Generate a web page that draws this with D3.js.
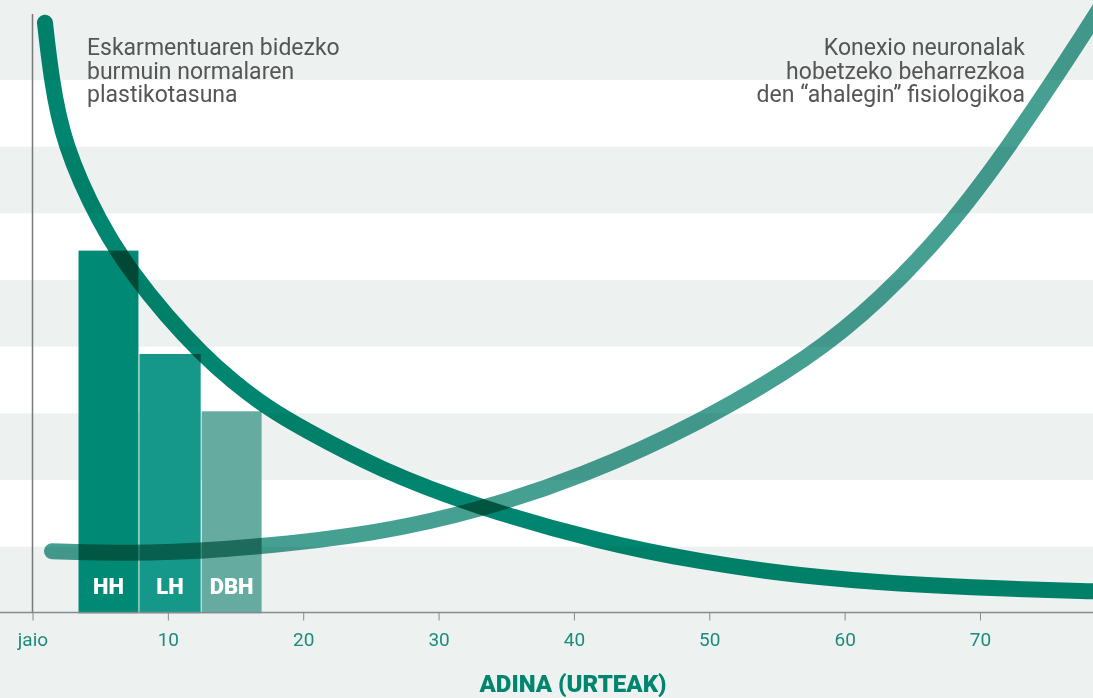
<!DOCTYPE html>
<html>
<head>
<meta charset="utf-8">
<script src="https://cdn.jsdelivr.net/npm/d3@7"></script>
<style>
  html, body { margin: 0; padding: 0; background: #edf1f0; }
  svg { display: block; }
</style>
</head>
<body>
<div id="chart"></div>
<script>
// data
const bandLevels = [1, 3, 5, 7];              // white stripes start at these levels (1 unit tall)
const barNames = ['HH', 'LH', 'DBH'];
const barStart = [3.4, 7.9, 12.5];           // age where each bar begins
const barEnd = [7.9, 12.5, 17.0];            // age where each bar ends
const barValues = [5.44, 3.89, 3.03];
const barColors = ['#008a75', '#15978a', '#65ab9f'];

// plasticity (falls with age)
const plastAges = [0.92, 1.37, 2.25, 4.99, 7.43, 9.94, 12.38, 14.81, 17.32, 19.76, 25.67, 33.06, 41.93, 49.31, 56.7, 64.09, 71.48, 78.35, 79.6];
const plastLevels = [8.86, 8.05, 7.05, 5.83, 5.08, 4.45, 3.92, 3.47, 3.09, 2.79, 2.15, 1.58, 1.07, 0.77, 0.56, 0.44, 0.37, 0.327, 0.325];

// physiological effort (rises with age)
const effortAges = [1.44, 8.68, 16.07, 25.67, 33.06, 40.45, 49.31, 57.66, 62.6, 67.56, 72.4, 78.35, 79.6];
const effortLevels = [0.93, 0.89, 0.98, 1.2, 1.55, 2.04, 2.85, 3.86, 4.7, 5.75, 7.06, 8.9, 9.32];

const xTicks = [0, 10, 20, 30, 40, 50, 60, 70];
const leftNote = ['Eskarmentuaren bidezko', 'burmuin normalaren', 'plastikotasuna'];
const rightNote = ['Konexio neuronalak', 'hobetzeko beharrezkoa', 'den “ahalegin” fisiologikoa'];
const axisTitle = 'ADINA (URTEAK)';

const width = 1093;
const height = 698;

const x = d3.scaleLinear().domain([0, 78.35]).range([32.5, 1093]);
const y = d3.scaleLinear().domain([0, 9]).range([613.3, 13.3]);

const svg = d3.select('#chart')
  .append('svg')
  .attr('width', width)
  .attr('height', height);

svg.append('rect')
  .attr('width', width)
  .attr('height', height)
  .attr('fill', '#edf1f0');

// white stripes
svg.selectAll('.band')
  .data(bandLevels)
  .enter()
  .append('rect')
  .attr('class', 'band')
  .attr('x', 0)
  .attr('width', width)
  .attr('y', d => y(d + 1))
  .attr('height', d => y(d) - y(d + 1))
  .attr('fill', '#ffffff');

// bars
const bars = svg.selectAll('.bar')
  .data(barNames)
  .enter()
  .append('g')
  .attr('class', 'bar');

bars.append('rect')
  .attr('x', (d, i) => x(barStart[i]))
  .attr('width', (d, i) => x(barEnd[i]) - x(barStart[i]) - 1)
  .attr('y', (d, i) => y(barValues[i]))
  .attr('height', (d, i) => y(0) - y(barValues[i]))
  .attr('fill', (d, i) => barColors[i]);

bars.append('text')
  .attr('x', (d, i) => (x(barStart[i]) + x(barEnd[i]) - 1) / 2)
  .attr('y', 594)
  .attr('text-anchor', 'middle')
  .attr('fill', '#ffffff')
  .style('font-family', 'Roboto, sans-serif')
  .style('font-weight', 900)
  .style('font-size', '22px')
  .text(d => d);

// curves
const line = d3.line()
  .x(d => x(d[0]))
  .y(d => y(d[1]))
  .curve(d3.curveBasis);

svg.append('path')
  .datum(effortAges.map((a, i) => [a, effortLevels[i]]))
  .attr('d', line)
  .attr('fill', 'none')
  .attr('stroke', '#46a092')
  .attr('stroke-width', 16)
  .attr('stroke-linecap', 'round')
  .style('mix-blend-mode', 'multiply');

svg.append('path')
  .datum(plastAges.map((a, i) => [a, plastLevels[i]]))
  .attr('d', line)
  .attr('fill', 'none')
  .attr('stroke', '#008670')
  .attr('stroke-width', 16)
  .attr('stroke-linecap', 'round')
  .style('mix-blend-mode', 'multiply');

// axes
svg.append('line')
  .attr('x1', x(0)).attr('x2', x(0))
  .attr('y1', 14).attr('y2', 612.5)
  .attr('stroke', '#7a7a7a')
  .attr('stroke-width', 1.5);

const xAxis = svg.append('g')
  .attr('transform', 'translate(0,612.5)')
  .call(d3.axisBottom(x)
    .tickValues(xTicks)
    .tickSize(8)
    .tickPadding(12)
    .tickFormat(d => d === 0 ? 'jaio' : d));

xAxis.select('.domain')
  .attr('d', `M0,0H${width}`)
  .attr('stroke', '#8a8a8a')
  .attr('stroke-width', 1.5);
xAxis.selectAll('.tick line').attr('stroke', '#8a8a8a');
xAxis.selectAll('.tick text')
  .attr('fill', '#1a8c7c')
  .style('font-family', 'Roboto, sans-serif')
  .style('font-size', '19px');

svg.append('text')
  .attr('x', 573)
  .attr('y', 692)
  .attr('text-anchor', 'middle')
  .attr('fill', '#00856f')
  .attr('textLength', 187)
  .attr('lengthAdjust', 'spacingAndGlyphs')
  .style('font-family', 'Roboto, sans-serif')
  .style('font-weight', 900)
  .style('font-size', '23px')
  .text(axisTitle);

// notes
const noteStyle = sel => sel
  .attr('fill', '#555555')
  .style('font-family', 'Roboto, sans-serif')
  .style('font-size', '23px');

svg.append('text')
  .call(noteStyle)
  .selectAll('tspan')
  .data(leftNote)
  .enter()
  .append('tspan')
  .attr('x', 87)
  .attr('y', (d, i) => 55 + i * 23.5)
  .text(d => d);

svg.append('text')
  .call(noteStyle)
  .attr('text-anchor', 'end')
  .selectAll('tspan')
  .data(rightNote)
  .enter()
  .append('tspan')
  .attr('x', 1025)
  .attr('y', (d, i) => 55 + i * 23.5)
  .text(d => d);
</script>
</body>
</html>
